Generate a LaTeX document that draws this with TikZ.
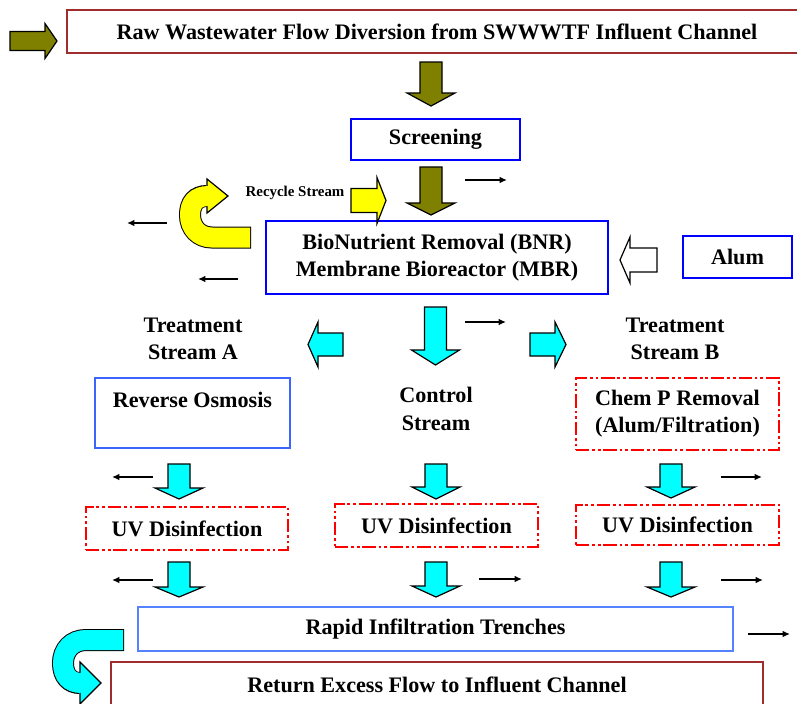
\documentclass[tikz,border=0pt]{standalone}
\usepackage{fontspec}
\setmainfont{Liberation Serif}
\usetikzlibrary{arrows.meta}
\definecolor{olivearr}{RGB}{128,128,0}
\definecolor{dred}{RGB}{160,45,45}
\definecolor{bblue}{RGB}{0,0,255}
\definecolor{lblue}{RGB}{60,100,255}
\definecolor{llblue}{RGB}{85,130,255}
\definecolor{cyanarr}{RGB}{0,255,255}
\definecolor{yelarr}{RGB}{255,255,0}
\definecolor{rred}{RGB}{255,0,0}
% vertical block arrow: cx, ytop, yhead, ytip, colour
\newcommand\blkdown[5]{%
  \filldraw[blockarrow, fill=#5] (#1-11,#2) -- (#1+11,#2) -- (#1+11,#3) -- (#1+24,#3)
    -- (#1,#4) -- (#1-24,#3) -- (#1-11,#3) -- cycle;}
% horizontal block arrow: xtail, xhead, xtip, cy, body half, head half, colour
\newcommand\blkhoriz[7]{%
  \filldraw[blockarrow, fill=#7] (#1,#4-#5) -- (#2,#4-#5) -- (#2,#4-#6) -- (#3,#4)
    -- (#2,#4+#6) -- (#2,#4+#5) -- (#1,#4+#5) -- cycle;}
\tikzset{
  blockarrow/.style={draw=black, line width=0.9pt, line join=miter},
  sz/.style 2 args={minimum width=#1*0.75pt, minimum height=#2*0.75pt},
  box/.style={draw, align=center, inner sep=0pt,
    font=\fontsize{16.6}{20.5}\selectfont\bfseries},
  bluebox/.style={box, draw=bblue, line width=2.2pt},
  robox/.style={box, draw=lblue, line width=2.2pt},
  rapidbox/.style={box, draw=llblue, line width=1.3pt},
  redbox/.style={box, draw=rred, line width=2.2pt,
    dash pattern=on 10pt off 2.2pt on 2pt off 2.2pt on 2pt off 2.2pt},
  dredbox/.style={box, draw=dred, line width=1.3pt},
  lbl/.style={align=center, inner sep=0pt, font=\fontsize{16.6}{20.5}\selectfont\bfseries},
  smalllbl/.style={inner sep=0pt, font=\fontsize{11.2}{13}\selectfont\bfseries},
  thinarrow/.style={line width=1.1pt, -{Latex[length=5.5pt,width=5pt]}},
}
\begin{document}
\begin{tikzpicture}[x=0.75pt,y=-0.75pt]
\clip (0,0) rectangle (797,704);
\fill[white] (0,0) rectangle (797,704);

% boxes
\node[dredbox, sz={740}{43}] (raw) at (437,31.5) {Raw Wastewater Flow Diversion from SWWWTF Influent Channel};
\node[bluebox, sz={169}{41}] (scr) at (435.5,139.5) {Screening};
\node[bluebox, sz={342}{73}] (bnr) at (437,257.5) {BioNutrient Removal (BNR)\\Membrane Bioreactor (MBR)};
\node[bluebox, sz={109}{42}] (alum) at (737.5,257) {Alum};
\node[robox, sz={195}{70}] (ro) at (192.5,413) {Reverse Osmosis\\\mbox{}};
\node[redbox, sz={203}{72}] (chem) at (677.5,414) {Chem P Removal\\(Alum/Filtration)};
\node[redbox, sz={202}{43}] (uva) at (187,528.5) {UV Disinfection};
\node[redbox, sz={203}{43}] (uvc) at (436.5,525.5) {UV Disinfection};
\node[redbox, sz={203}{40}] (uvb) at (677.5,525) {UV Disinfection};
\node[rapidbox, sz={595}{44}] (rit) at (435.5,629) {Rapid Infiltration Trenches};
\node[dredbox, sz={652}{46}] (ret) at (437,685) {Return Excess Flow to Influent Channel};

% labels
\node[lbl] (tsa) at (193,339) {Treatment\\Stream A};
\node[lbl] (tsb) at (675,339) {Treatment\\Stream B};
\node[lbl] (ctl) at (436,409) {Control\\Stream};
\node[smalllbl] (rec) at (295,193) {Recycle Stream};

% block arrows
\blkhoriz{10}{45}{57}{41}{9.5}{17.5}{olivearr}
\blkdown{431}{62}{93}{106}{olivearr}
\blkdown{431}{167}{203}{215}{olivearr}
\blkhoriz{351}{377}{386}{200.5}{12}{23}{yelarr}
\blkhoriz{657}{630}{620}{260}{12}{23}{white}
\blkhoriz{343}{318}{308}{344.5}{11.5}{22.5}{cyanarr}
\blkhoriz{530}{555}{566}{344.5}{11.5}{22.5}{cyanarr}
\blkdown{435.5}{307}{350}{365}{cyanarr}
\blkdown{179}{464}{488}{499}{cyanarr}
\blkdown{436}{464}{487}{499}{cyanarr}
\blkdown{671}{464}{487}{498}{cyanarr}
\blkdown{179}{562}{587}{597}{cyanarr}
\blkdown{436}{562}{586}{597}{cyanarr}
\blkdown{671}{562}{587}{597}{cyanarr}

% yellow U-turn arrow
\draw[line width=16.5pt, black] (251,237.5) -- (212,237.5) .. controls (199,237.5) and (190,228) .. (190,215) .. controls (190,203) and (196,196) .. (207,196);
\filldraw[blockarrow, fill=yelarr] (207,179) -- (228,196) -- (207,213) -- cycle;
\draw[line width=15pt, yelarr] (250,237.5) -- (212,237.5) .. controls (199,237.5) and (190,228) .. (190,215) .. controls (190,203) and (196,196) .. (208.5,196);

% cyan U-turn arrow
\draw[line width=16.5pt, black] (124,640) -- (86,640) .. controls (72,640) and (63,650) .. (63,663) .. controls (63,676) and (70,683) .. (80,683);
\filldraw[blockarrow, fill=cyanarr] (80,662) -- (101,683) -- (80,704) -- cycle;
\draw[line width=15pt, cyanarr] (123,640) -- (86,640) .. controls (72,640) and (63,650) .. (63,663) .. controls (63,676) and (70,683) .. (81.5,683);

% small flow arrows
\coordinate (a1s) at (465,180); \coordinate (a1e) at (507,180);
\draw[thinarrow] (a1s) -- (a1e);
\coordinate (a2s) at (167,223); \coordinate (a2e) at (127,223);
\draw[thinarrow] (a2s) -- (a2e);
\coordinate (a3s) at (238,279); \coordinate (a3e) at (198,279);
\draw[thinarrow] (a3s) -- (a3e);
\coordinate (a4s) at (465,322); \coordinate (a4e) at (506,322);
\draw[thinarrow] (a4s) -- (a4e);
\coordinate (a5s) at (153,477); \coordinate (a5e) at (112,477);
\draw[thinarrow] (a5s) -- (a5e);
\coordinate (a6s) at (721,477); \coordinate (a6e) at (762,477);
\draw[thinarrow] (a6s) -- (a6e);
\coordinate (a7s) at (153,580); \coordinate (a7e) at (112,580);
\draw[thinarrow] (a7s) -- (a7e);
\coordinate (a8s) at (479,579); \coordinate (a8e) at (522,579);
\draw[thinarrow] (a8s) -- (a8e);
\coordinate (a9s) at (721,580); \coordinate (a9e) at (763,580);
\draw[thinarrow] (a9s) -- (a9e);
\coordinate (a10s) at (748,634); \coordinate (a10e) at (790,634);
\draw[thinarrow] (a10s) -- (a10e);
\end{tikzpicture}
\end{document}
